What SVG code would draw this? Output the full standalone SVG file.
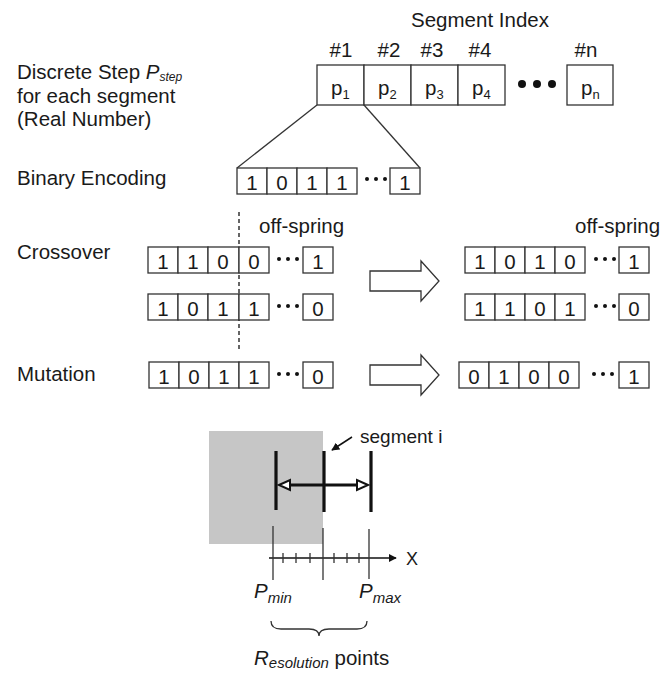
<svg xmlns="http://www.w3.org/2000/svg" width="663" height="673" viewBox="0 0 663 673">
<defs>
<style>
.t{font-family:"Liberation Sans",Arial,sans-serif;font-size:20.5px;fill:#1a1a1a}
.c{text-anchor:middle}
.i{font-style:italic}
.s{font-size:13px}
.box{fill:#fff;stroke:#333;stroke-width:1.3}
.ln{stroke:#333;stroke-width:1.3;fill:none}
.thick{stroke:#111;stroke-width:3.2;fill:none}
.dot{fill:#111}
</style>
<marker id="ah" viewBox="0 0 10 10" refX="9" refY="5" markerWidth="8" markerHeight="8" markerUnits="userSpaceOnUse" orient="auto"><path d="M0,0 L10,5 L0,10 Z" fill="#111"/></marker>
</defs>
<rect width="663" height="673" fill="#fff"/>

<g id="labels">
<text class="t" x="17" y="79">Discrete Step <tspan class="i">P</tspan><tspan class="i" dy="2" style="font-size:12px">step</tspan></text>
<text class="t" x="17" y="103">for each segment</text>
<text class="t" x="17" y="126">(Real Number)</text>
<text class="t" x="17" y="185">Binary Encoding</text>
<text class="t" x="17" y="259">Crossover</text>
<text class="t" x="17" y="381">Mutation</text>
<text class="t" x="259" y="233">off-spring</text>
<text class="t" x="575" y="233">off-spring</text>
</g>

<g id="segment-index">
<text class="t c" x="480" y="27">Segment Index</text>
<text class="t c" x="341" y="57">#1</text>
<text class="t c" x="389" y="57">#2</text>
<text class="t c" x="432" y="57">#3</text>
<text class="t c" x="480" y="57">#4</text>
<text class="t c" x="586" y="57">#n</text>
<rect class="box" x="317" y="65" width="47" height="40"/>
<rect class="box" x="364" y="65" width="47" height="40"/>
<rect class="box" x="411" y="65" width="47" height="40"/>
<rect class="box" x="458" y="65" width="47" height="40"/>
<rect class="box" x="567" y="65" width="46" height="40"/>
<text class="t" x="331" y="95">p<tspan class="s" dy="4">1</tspan></text>
<text class="t" x="378" y="95">p<tspan class="s" dy="4">2</tspan></text>
<text class="t" x="425" y="95">p<tspan class="s" dy="4">3</tspan></text>
<text class="t" x="472" y="95">p<tspan class="s" dy="4">4</tspan></text>
<text class="t" x="581" y="95">p<tspan class="s" dy="4">n</tspan></text>
<circle class="dot" cx="522" cy="84" r="4"/>
<circle class="dot" cx="537" cy="84" r="4"/>
<circle class="dot" cx="552" cy="84" r="4"/>
</g>

<g id="connectors">
<line class="ln" x1="317" y1="105" x2="237" y2="168"/>
<line class="ln" x1="364" y1="105" x2="420" y2="168"/>
<line x1="239" y1="212" x2="239" y2="350" stroke="#333" stroke-width="1.5" stroke-dasharray="4,3"/>
<path class="ln" d="M370,271 H421 V261 L439,281 L421,301 V291 H370 Z" fill="#fff"/>
<path class="ln" d="M370,365 H421 V355 L439,375 L421,395 V385 H370 Z" fill="#fff"/>
</g>

<g id="binary-encoding">
<rect class="box" x="237" y="168" width="30" height="26"/>
<rect class="box" x="267" y="168" width="30" height="26"/>
<rect class="box" x="297" y="168" width="30" height="26"/>
<rect class="box" x="327" y="168" width="30" height="26"/>
<rect class="box" x="390" y="168" width="30" height="26"/>
<text class="t c" x="252" y="190">1</text><text class="t c" x="282" y="190">0</text><text class="t c" x="312" y="190">1</text><text class="t c" x="342" y="190">1</text><text class="t c" x="405" y="190">1</text>
<circle class="dot" cx="367" cy="179" r="2"/><circle class="dot" cx="376" cy="179" r="2"/><circle class="dot" cx="385" cy="179" r="2"/>
</g>

<g id="crossover-parent-1">
<rect class="box" x="148" y="247" width="30" height="26"/><rect class="box" x="178" y="247" width="30" height="26"/><rect class="box" x="208" y="247" width="31" height="26"/><rect class="box" x="239" y="247" width="30" height="26"/><rect class="box" x="303" y="247" width="30" height="26"/>
<text class="t c" x="163" y="269">1</text><text class="t c" x="193" y="269">1</text><text class="t c" x="223" y="269">0</text><text class="t c" x="254" y="269">0</text><text class="t c" x="318" y="269">1</text>
<circle class="dot" cx="279" cy="259" r="2"/><circle class="dot" cx="288" cy="259" r="2"/><circle class="dot" cx="297" cy="259" r="2"/>
</g>
<g id="crossover-parent-2">
<rect class="box" x="148" y="294" width="30" height="26"/><rect class="box" x="178" y="294" width="30" height="26"/><rect class="box" x="208" y="294" width="31" height="26"/><rect class="box" x="239" y="294" width="30" height="26"/><rect class="box" x="303" y="294" width="30" height="26"/>
<text class="t c" x="163" y="316">1</text><text class="t c" x="193" y="316">0</text><text class="t c" x="223" y="316">1</text><text class="t c" x="254" y="316">1</text><text class="t c" x="318" y="316">0</text>
<circle class="dot" cx="279" cy="306" r="2"/><circle class="dot" cx="288" cy="306" r="2"/><circle class="dot" cx="297" cy="306" r="2"/>
</g>
<g id="crossover-child-1">
<rect class="box" x="465" y="247" width="30" height="26"/><rect class="box" x="495" y="247" width="30" height="26"/><rect class="box" x="525" y="247" width="30" height="26"/><rect class="box" x="555" y="247" width="30" height="26"/><rect class="box" x="619" y="247" width="30" height="26"/>
<text class="t c" x="480" y="269">1</text><text class="t c" x="510" y="269">0</text><text class="t c" x="540" y="269">1</text><text class="t c" x="570" y="269">0</text><text class="t c" x="634" y="269">1</text>
<circle class="dot" cx="596" cy="259" r="2"/><circle class="dot" cx="605" cy="259" r="2"/><circle class="dot" cx="614" cy="259" r="2"/>
</g>
<g id="crossover-child-2">
<rect class="box" x="465" y="294" width="30" height="26"/><rect class="box" x="495" y="294" width="30" height="26"/><rect class="box" x="525" y="294" width="30" height="26"/><rect class="box" x="555" y="294" width="30" height="26"/><rect class="box" x="619" y="294" width="30" height="26"/>
<text class="t c" x="480" y="316">1</text><text class="t c" x="510" y="316">1</text><text class="t c" x="540" y="316">0</text><text class="t c" x="570" y="316">1</text><text class="t c" x="634" y="316">0</text>
<circle class="dot" cx="596" cy="306" r="2"/><circle class="dot" cx="605" cy="306" r="2"/><circle class="dot" cx="614" cy="306" r="2"/>
</g>

<g id="mutation-before">
<rect class="box" x="149" y="362" width="30" height="26"/><rect class="box" x="179" y="362" width="30" height="26"/><rect class="box" x="209" y="362" width="30" height="26"/><rect class="box" x="239" y="362" width="30" height="26"/><rect class="box" x="303" y="362" width="30" height="26"/>
<text class="t c" x="164" y="384">1</text><text class="t c" x="194" y="384">0</text><text class="t c" x="224" y="384">1</text><text class="t c" x="254" y="384">1</text><text class="t c" x="318" y="384">0</text>
<circle class="dot" cx="279" cy="374" r="2"/><circle class="dot" cx="288" cy="374" r="2"/><circle class="dot" cx="297" cy="374" r="2"/>
</g>
<g id="mutation-after">
<rect class="box" x="459" y="362" width="30" height="26"/><rect class="box" x="489" y="362" width="30" height="26"/><rect class="box" x="519" y="362" width="30" height="26"/><rect class="box" x="549" y="362" width="30" height="26"/><rect class="box" x="619" y="362" width="30" height="26"/>
<text class="t c" x="474" y="384">0</text><text class="t c" x="504" y="384">1</text><text class="t c" x="534" y="384">0</text><text class="t c" x="564" y="384">0</text><text class="t c" x="634" y="384">1</text>
<circle class="dot" cx="594" cy="374" r="2"/><circle class="dot" cx="603" cy="374" r="2"/><circle class="dot" cx="612" cy="374" r="2"/>
</g>

<g id="segment-diagram">
<rect x="209" y="431" width="114" height="113" fill="#c6c6c6"/>
<line class="thick" x1="276" y1="451" x2="276" y2="510"/>
<line class="thick" x1="324" y1="451" x2="324" y2="512"/>
<line class="thick" x1="371" y1="451" x2="371" y2="512"/>
<line class="thick" x1="288" y1="485" x2="359" y2="485"/>
<polygon points="279,485 290,480 290,490" fill="#fff" stroke="#111" stroke-width="2"/>
<polygon points="368,485 357,480 357,490" fill="#fff" stroke="#111" stroke-width="2"/>
<line x1="352" y1="437" x2="332" y2="450" stroke="#111" stroke-width="1.5" marker-end="url(#ah)"/>
<text class="t" x="360" y="443" style="font-size:19px">segment i</text>
</g>

<g id="axis">
<line x1="269" y1="558" x2="396" y2="558" stroke="#111" stroke-width="1.5" marker-end="url(#ah)"/>
<text class="t" x="406" y="565" style="font-size:18px">X</text>
<line class="ln" x1="273" y1="526" x2="273" y2="580"/>
<line class="ln" x1="323" y1="528" x2="323" y2="580"/>
<line class="ln" x1="369" y1="529" x2="369" y2="579"/>
<path class="ln" d="M283,553 V563 M296,553 V563 M310,553 V563 M334,553 V563 M347,553 V563 M359,553 V563"/>
<text class="t i" x="254" y="598">P<tspan dy="5" style="font-size:15px">min</tspan></text>
<text class="t i" x="359" y="598">P<tspan dy="5" style="font-size:15px">max</tspan></text>
<path class="ln" d="M271,621 Q271,629 281,629 L309,629 Q319,629 319,636 Q319,629 329,629 L357,629 Q367,629 367,621"/>
<text class="t" x="254" y="665"><tspan class="i">R</tspan><tspan class="i" dy="3" style="font-size:15px">esolution</tspan><tspan dy="-3"> points</tspan></text>
</g>
</svg>
